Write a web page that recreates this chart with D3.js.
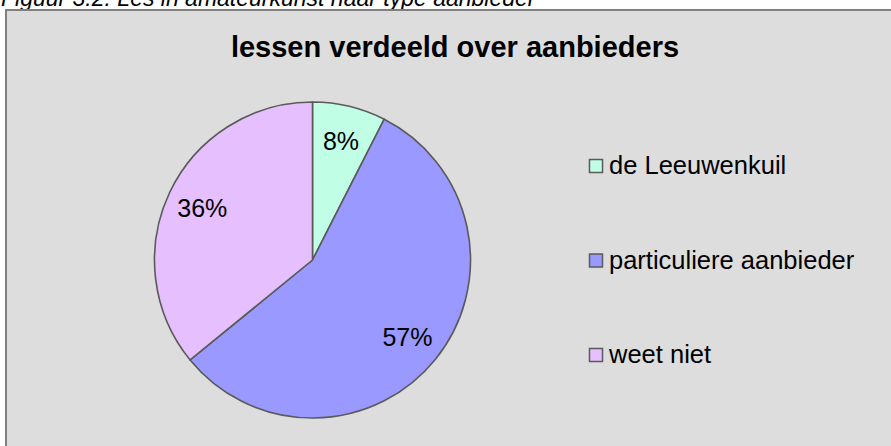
<!DOCTYPE html>
<html>
<head>
<meta charset="utf-8">
<script src="https://cdn.jsdelivr.net/npm/d3@7"></script>
<style>
  html, body { margin: 0; padding: 0; background: #fff; }
  svg { display: block; font-family: "Liberation Sans", Arial, sans-serif; }
</style>
</head>
<body>
<div id="chart"></div>
<script>
// chart data
const categories = ['de Leeuwenkuil', 'particuliere aanbieder', 'weet niet'];
const shares = [7.5, 56.6, 35.9];
const sliceColors = ['#c0ffe6', '#9999ff', '#e6bfff'];
const caption = 'Figuur 3.2: Les in amateurkunst naar type aanbieder';
const title = 'lessen verdeeld over aanbieders';

const width = 891, height = 446;

const svg = d3.select('#chart').append('svg')
  .attr('width', width)
  .attr('height', height);

// caption, clipped by top of the page
svg.append('text')
  .attr('x', 1)
  .attr('y', 5.5)
  .attr('font-size', 23)
  .attr('font-style', 'italic')
  .attr('fill', '#000')
  .text(caption);

// chart area frame (runs off right and bottom)
svg.append('rect')
  .attr('x', 6)
  .attr('y', 10)
  .attr('width', width + 10)
  .attr('height', height + 10)
  .attr('fill', '#dddddd')
  .attr('stroke', '#808080')
  .attr('stroke-width', 2);

svg.append('text')
  .attr('x', 455)
  .attr('y', 57)
  .attr('text-anchor', 'middle')
  .attr('font-size', 29)
  .attr('font-weight', 'bold')
  .text(title);

// pie
const cx = 312.5, cy = 260, radius = 158;
const g = svg.append('g').attr('transform', `translate(${cx},${cy})`);

const pie = d3.pie().sort(null).value(d => d);
const arcs = pie(shares);
const arc = d3.arc().innerRadius(0).outerRadius(radius);
const labelArc = d3.arc().innerRadius(122).outerRadius(122);

g.selectAll('path')
  .data(arcs)
  .enter()
  .append('path')
  .attr('d', arc)
  .attr('fill', (d, i) => sliceColors[i])
  .attr('stroke', '#5a5a5a')
  .attr('stroke-width', 1.6)
  .attr('stroke-linejoin', 'round');

g.selectAll('text.pct')
  .data(arcs)
  .enter()
  .append('text')
  .attr('class', 'pct')
  .attr('transform', d => `translate(${labelArc.centroid(d)})`)
  .attr('text-anchor', 'middle')
  .attr('dy', '0.36em')
  .attr('font-size', 25)
  .text(d => Math.round(d.value) + '%');

// legend
const legendY = d3.scalePoint()
  .domain(categories)
  .range([166, 355]);

const legend = svg.append('g');
const item = legend.selectAll('g')
  .data(categories)
  .enter()
  .append('g')
  .attr('transform', d => `translate(589,${legendY(d)})`);

item.append('rect')
  .attr('x', 0.5)
  .attr('y', -6.5)
  .attr('width', 13)
  .attr('height', 13)
  .attr('fill', (d, i) => sliceColors[i])
  .attr('stroke', '#5a5a5a')
  .attr('stroke-width', 1.5);

item.append('text')
  .attr('x', 20)
  .attr('y', 8)
  .attr('font-size', 25.5)
  .text(d => d);
</script>
</body>
</html>
